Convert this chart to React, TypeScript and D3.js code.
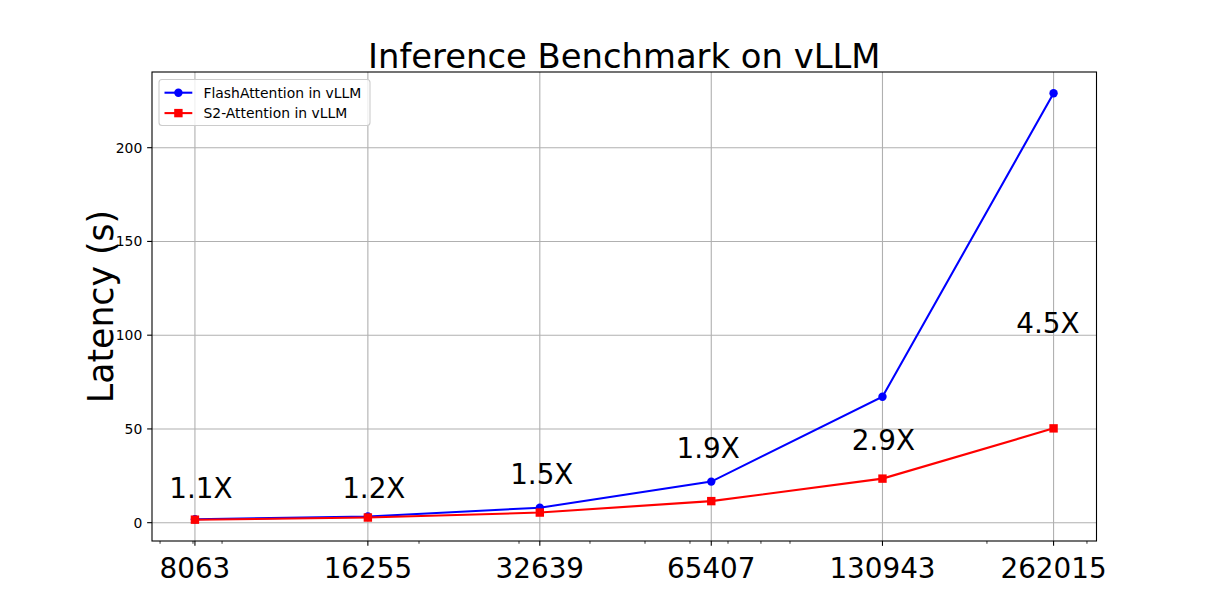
import React from "react";
import * as d3 from "d3";

const seqLengths = [8063, 16255, 32639, 65407, 130943, 262015];
const flashLatency = [1.8, 3.3, 8.0, 21.9, 67.2, 229.0];
const s2Latency = [1.6, 2.75, 5.4, 11.5, 23.5, 50.3];
const speedupLabels = ["1.1X", "1.2X", "1.5X", "1.9X", "2.9X", "4.5X"];
const speedupLabelX = [8260, 16650, 32900, 64600, 131400, 256000];
const speedupLabelY = [13.3, 13.3, 20.8, 34.7, 38.9, 101.3];
const yTicks = [0, 50, 100, 150, 200];
const seriesNames = ["FlashAttention in vLLM", "S2-Attention in vLLM"];

const W = 1218;
const H = 609;
const L = 152, R = 1096.5, T = 72, B = 541;
const FONT = "DejaVu Sans, sans-serif";

export default function App() {
  const lo = d3.min(seqLengths)!;
  const hi = d3.max(seqLengths)!;
  const lr = Math.log(hi / lo);
  const xDomain = [lo / Math.exp(lr * 0.05), hi * Math.exp(lr * 0.05)];
  const x = d3.scaleLog().domain(xDomain).range([L, R]);

  const all = [...flashLatency, ...s2Latency];
  const ymin = d3.min(all)!;
  const ymax = d3.max(all)!;
  const yr = ymax - ymin;
  const y = d3.scaleLinear().domain([ymin - 0.05 * yr, ymax + 0.05 * yr]).range([B, T]);

  const minor: number[] = [];
  for (let k = 3; k <= 6; k++) {
    for (let n = 2; n <= 9; n++) {
      const v = n * Math.pow(10, k);
      if (v > xDomain[0] && v < xDomain[1]) minor.push(v);
    }
  }

  const line = d3
    .line<number>()
    .x((_, i) => x(seqLengths[i]))
    .y((d) => y(d));

  const blue = "#0000ff";
  const red = "#ff0000";
  const grid = "#b0b0b0";

  return (
    <svg
      width={W}
      height={H}
      style={{ position: "fixed", left: 0, top: 0, background: "#fff" }}
      fontFamily={FONT}
    >
      <rect x={0} y={0} width={W} height={H} fill="#fff" />
      {/* grid */}
      {seqLengths.map((v) => (
        <line key={"gx" + v} x1={x(v)} x2={x(v)} y1={T} y2={B} stroke={grid} strokeWidth={1.1} />
      ))}
      {yTicks.map((v) => (
        <line key={"gy" + v} x1={L} x2={R} y1={y(v)} y2={y(v)} stroke={grid} strokeWidth={1.1} />
      ))}

      {/* lines */}
      <path d={line(flashLatency) || ""} fill="none" stroke={blue} strokeWidth={2.08} />
      <path d={line(s2Latency) || ""} fill="none" stroke={red} strokeWidth={2.08} />
      {flashLatency.map((v, i) => (
        <circle key={"fc" + i} cx={x(seqLengths[i])} cy={y(v)} r={4.2} fill={blue} />
      ))}
      {s2Latency.map((v, i) => (
        <rect key={"sr" + i} x={x(seqLengths[i]) - 4.2} y={y(v) - 4.2} width={8.4} height={8.4} fill={red} />
      ))}

      {/* annotations */}
      {speedupLabels.map((t, i) => (
        <text
          key={"an" + i}
          x={x(speedupLabelX[i])}
          y={y(speedupLabelY[i])}
          textAnchor="middle"
          fontSize={27.8}
          fill="#000"
        >
          {t}
        </text>
      ))}

      {/* spines */}
      <rect x={L} y={T} width={R - L} height={B - T} fill="none" stroke="#000" strokeWidth={1.1} />

      {/* x ticks */}
      {seqLengths.map((v) => (
        <g key={"xt" + v}>
          <line x1={x(v)} x2={x(v)} y1={B} y2={B + 4.86} stroke="#000" strokeWidth={1.1} />
          <text x={x(v)} y={578} textAnchor="middle" fontSize={27.8} fill="#000">
            {v}
          </text>
        </g>
      ))}
      {minor.map((v) => (
        <line key={"mx" + v} x1={x(v)} x2={x(v)} y1={B} y2={B + 2.78} stroke="#000" strokeWidth={0.8} />
      ))}

      {/* y ticks */}
      {yTicks.map((v) => (
        <g key={"yt" + v}>
          <line x1={L - 4.86} x2={L} y1={y(v)} y2={y(v)} stroke="#000" strokeWidth={1.1} />
          <text x={L - 9.7} y={y(v)} dy="0.36em" textAnchor="end" fontSize={13.9} fill="#000">
            {v}
          </text>
        </g>
      ))}

      {/* y label */}
      <text
        transform={`translate(113, ${(T + B) / 2}) rotate(-90)`}
        textAnchor="middle"
        fontSize={34.7}
        fill="#000"
      >
        Latency (s)
      </text>

      {/* title */}
      <text x={(L + R) / 2} y={68} textAnchor="middle" fontSize={33.8} fill="#000">
        Inference Benchmark on vLLM
      </text>

      {/* legend */}
      <g>
        <rect
          x={159}
          y={79.5}
          width={211}
          height={46}
          rx={3}
          fill="#fff"
          fillOpacity={0.8}
          stroke="#cccccc"
          strokeWidth={1.1}
        />
        {seriesNames.map((name, i) => {
          const cy = 92.7 + i * 20.4;
          const color = i === 0 ? blue : red;
          return (
            <g key={"lg" + i}>
              <line x1={164.5} x2={192.3} y1={cy} y2={cy} stroke={color} strokeWidth={2.08} />
              {i === 0 ? (
                <circle cx={178.4} cy={cy} r={4.2} fill={color} />
              ) : (
                <rect x={178.4 - 4.2} y={cy - 4.2} width={8.4} height={8.4} fill={color} />
              )}
              <text x={203.5} y={cy} dy="0.36em" fontSize={13.9} fill="#000">
                {name}
              </text>
            </g>
          );
        })}
      </g>
    </svg>
  );
}
